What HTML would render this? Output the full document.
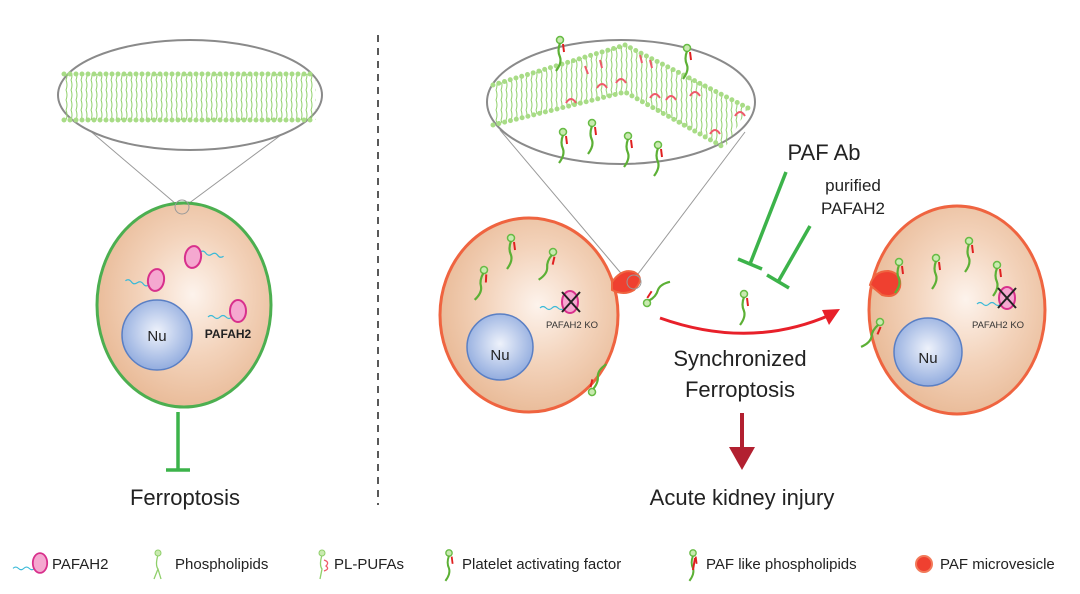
<!DOCTYPE html>
<html><head><meta charset="utf-8"><style>
html,body{margin:0;padding:0;background:#fff;}
svg{display:block;font-family:"Liberation Sans",Arial,sans-serif;}
</style></head><body>
<svg width="1080" height="594" viewBox="0 0 1080 594">
<defs>
<radialGradient id="cell" cx="0.55" cy="0.45" r="0.6">
<stop offset="0" stop-color="#fdf3ec"/><stop offset="0.5" stop-color="#f3d3bb"/><stop offset="1" stop-color="#e8b894"/></radialGradient>
<radialGradient id="nu" cx="0.5" cy="0.45" r="0.6">
<stop offset="0" stop-color="#eef2fb"/><stop offset="1" stop-color="#8aa6dc"/></radialGradient>
<pattern id="tails" width="5" height="10" patternUnits="userSpaceOnUse">
<path d="M1 0 Q3 5 1 10" stroke="#8fcf6a" stroke-width="1" fill="none"/></pattern>
<g id="paf"><circle cx="0" cy="0" r="3.5" fill="#c9eab0" stroke="#66bb44" stroke-width="1.5"/><path d="M0 3 q-3 8 0 14 q2 6 -4 14" stroke="#5cb035" stroke-width="2.2" fill="none"/><path d="M3 4 l1 8" stroke="#e02020" stroke-width="2"/></g>
<g id="pafah"><path d="M-30 6 q3 -3 6 0 t6 0 t6 0 t6 0" stroke="#39b9d8" stroke-width="1.2" fill="none"/><ellipse cx="0" cy="0" rx="8" ry="11" fill="#f5a8d0" stroke="#d8308c" stroke-width="2"/></g>
</defs>

<!-- LEFT -->
<line x1="68" y1="112" x2="176" y2="204" stroke="#999" stroke-width="1"/>
<line x1="312" y1="112" x2="188" y2="204" stroke="#999" stroke-width="1"/>
<ellipse cx="190" cy="95" rx="132" ry="55" fill="#fff" stroke="#8a8a8a" stroke-width="2"/>
<rect x="64" y="74" width="252" height="46" fill="url(#tails)"/>
<line x1="64" y1="74" x2="316" y2="74" stroke="#a8dc86" stroke-width="5" stroke-dasharray="0 6" stroke-linecap="round"/>
<line x1="64" y1="120" x2="316" y2="120" stroke="#a8dc86" stroke-width="5" stroke-dasharray="0 6" stroke-linecap="round"/>
<ellipse cx="184" cy="305" rx="87" ry="102" fill="url(#cell)" stroke="#4caf50" stroke-width="3"/>
<circle cx="182" cy="207" r="7" fill="none" stroke="#999" stroke-width="1"/>
<circle cx="157" cy="335" r="35" fill="url(#nu)" stroke="#5a7fc4" stroke-width="1.5"/>
<text x="157" y="341" font-size="15" text-anchor="middle" fill="#222">Nu</text>
<use href="#pafah" transform="translate(156,280) rotate(10)"/>
<use href="#pafah" transform="translate(193,257) rotate(-170)"/>
<use href="#pafah" transform="translate(238,311) rotate(0)"/>
<text x="228" y="338" font-size="12" font-weight="bold" text-anchor="middle" fill="#222">PAFAH2</text>
<line x1="178" y1="412" x2="178" y2="470" stroke="#3cb34a" stroke-width="3.5"/>
<line x1="166" y1="470" x2="190" y2="470" stroke="#3cb34a" stroke-width="3.5"/>
<text x="185" y="505" font-size="22" text-anchor="middle" fill="#222">Ferroptosis</text>

<line x1="378" y1="35" x2="378" y2="505" stroke="#222" stroke-width="1.5" stroke-dasharray="7 6"/>

<!-- RIGHT cell 1 -->
<line x1="500" y1="130" x2="625" y2="278" stroke="#999" stroke-width="1"/>
<line x1="745" y1="132" x2="635" y2="278" stroke="#999" stroke-width="1"/>
<ellipse cx="621" cy="102" rx="134" ry="62" fill="#fff" stroke="#8a8a8a" stroke-width="2"/>
<polygon points="493,85 625,45 748,108 725,148 625,92 493,125" fill="url(#tails)"/>
<polyline points="493,85 625,45 748,108" fill="none" stroke="#a8dc86" stroke-width="5" stroke-dasharray="0 6" stroke-linecap="round"/>
<polyline points="493,125 625,92 725,148" fill="none" stroke="#a8dc86" stroke-width="5" stroke-dasharray="0 6" stroke-linecap="round"/>
<g stroke="#ef5a6a" stroke-width="2" fill="none">
<path d="M566 103 q5 -8 10 0"/><path d="M597 88 q5 -8 10 0"/><path d="M616 83 q5 -8 10 0"/><path d="M650 98 q5 -8 10 0"/><path d="M666 100 q5 -8 10 0"/><path d="M690 96 q5 -8 10 0"/><path d="M710 134 q5 -8 10 0"/><path d="M735 116 q5 -8 10 0"/><path d="M585 66 l3 8"/><path d="M600 60 l2 8"/><path d="M640 55 l2 8"/><path d="M650 60 l2 8"/>
</g>
<use href="#paf" transform="translate(560,40)"/>
<use href="#paf" transform="translate(687,48)"/>
<use href="#paf" transform="translate(563,132)"/>
<use href="#paf" transform="translate(592,123)"/>
<use href="#paf" transform="translate(628,136)"/>
<use href="#paf" transform="translate(658,145)"/>

<ellipse cx="529" cy="315" rx="89" ry="97" fill="url(#cell)" stroke="#ef6440" stroke-width="3"/>
<path d="M612 282 q10 -14 22 -10 q12 6 0 18 q-10 6 -22 0 z" fill="#ef4030" stroke="#ef6440" stroke-width="2"/>
<circle cx="634" cy="282" r="7" fill="none" stroke="#999" stroke-width="1"/>
<circle cx="500" cy="347" r="33" fill="url(#nu)" stroke="#5a7fc4" stroke-width="1.5"/>
<text x="500" y="360" font-size="15" text-anchor="middle" fill="#222">Nu</text>
<use href="#paf" transform="translate(511,238)"/>
<use href="#paf" transform="translate(484,270) rotate(10)"/>
<use href="#paf" transform="translate(553,252) rotate(20)"/>
<use href="#paf" transform="translate(592,392) rotate(200)"/>
<use href="#paf" transform="translate(647,303) rotate(220)"/>
<use href="#pafah" transform="translate(570,302)"/>
<path d="M562 292 l18 20 M580 292 l-18 20" stroke="#222" stroke-width="2"/>
<text x="572" y="328" font-size="9.5" text-anchor="middle" fill="#333">PAFAH2 KO</text>

<!-- middle -->
<text x="824" y="160" font-size="22" text-anchor="middle" fill="#222">PAF Ab</text>
<text x="853" y="191" font-size="17" text-anchor="middle" fill="#222">purified</text>
<text x="853" y="214" font-size="17" text-anchor="middle" fill="#222">PAFAH2</text>
<g stroke="#3cb34a" stroke-width="3.5">
<line x1="786" y1="172" x2="750" y2="264"/><line x1="738" y1="259" x2="762" y2="269"/>
<line x1="810" y1="226" x2="778" y2="282"/><line x1="767" y1="275" x2="789" y2="288"/>
</g>
<use href="#paf" transform="translate(744,294)"/>
<path d="M660 318 Q750 350 830 315" fill="none" stroke="#e8202a" stroke-width="3"/>
<polygon points="840,309 822,310 829,325" fill="#e8202a"/>
<text x="740" y="366" font-size="22" text-anchor="middle" fill="#222">Synchronized</text>
<text x="740" y="397" font-size="22" text-anchor="middle" fill="#222">Ferroptosis</text>
<line x1="742" y1="413" x2="742" y2="450" stroke="#b22030" stroke-width="4"/>
<polygon points="729,447 755,447 742,470" fill="#b22030"/>
<text x="742" y="505" font-size="22" text-anchor="middle" fill="#222">Acute kidney injury</text>

<!-- RIGHT cell 2 -->
<ellipse cx="957" cy="310" rx="88" ry="104" fill="url(#cell)" stroke="#ef6440" stroke-width="3"/>
<path d="M870 285 q4 -14 18 -14 q14 2 12 16 q-4 12 -18 8 z" fill="#ef4030" stroke="#ef6440" stroke-width="2"/>
<circle cx="928" cy="352" r="34" fill="url(#nu)" stroke="#5a7fc4" stroke-width="1.5"/>
<text x="928" y="363" font-size="15" text-anchor="middle" fill="#222">Nu</text>
<use href="#paf" transform="translate(899,262)"/>
<use href="#paf" transform="translate(936,258)"/>
<use href="#paf" transform="translate(969,241)"/>
<use href="#paf" transform="translate(997,265)"/>
<use href="#paf" transform="translate(880,322) rotate(30)"/>
<use href="#pafah" transform="translate(1007,298)"/>
<path d="M998 288 l18 20 M1016 288 l-18 20" stroke="#222" stroke-width="2"/>
<text x="998" y="328" font-size="9.5" text-anchor="middle" fill="#333">PAFAH2 KO</text>

<!-- legend -->
<g font-size="15" fill="#222">
<use href="#pafah" transform="translate(40,563) scale(0.9)"/>
<text x="52" y="569">PAFAH2</text>
<path d="M158 555 q-3 10 0 14 l-4 10 M158 569 l3 10" stroke="#8fcf6a" stroke-width="1.3" fill="none"/><circle cx="158" cy="553" r="3" fill="#c9eab0" stroke="#8fcf6a"/>
<text x="175" y="569">Phospholipids</text>
<path d="M322 555 q-3 10 0 14 l-2 10" stroke="#8fcf6a" stroke-width="1.3" fill="none"/><circle cx="322" cy="553" r="3" fill="#c9eab0" stroke="#8fcf6a"/><path d="M324 560 q6 2 2 6 q4 3 -2 5" stroke="#ef5a6a" stroke-width="1.3" fill="none"/>
<text x="334" y="569">PL-PUFAs</text>
<use href="#paf" transform="translate(449,553) scale(0.9)"/>
<text x="462" y="569">Platelet activating factor</text>
<use href="#paf" transform="translate(693,553) scale(0.9)"/><path d="M695 558 l-2 12" stroke="#e02020" stroke-width="2"/>
<text x="706" y="569">PAF like phospholipids</text>
<circle cx="924" cy="564" r="8" fill="#ef4030" stroke="#f27a5a" stroke-width="2"/>
<text x="940" y="569">PAF microvesicle</text>
</g>
</svg>
</body></html>
